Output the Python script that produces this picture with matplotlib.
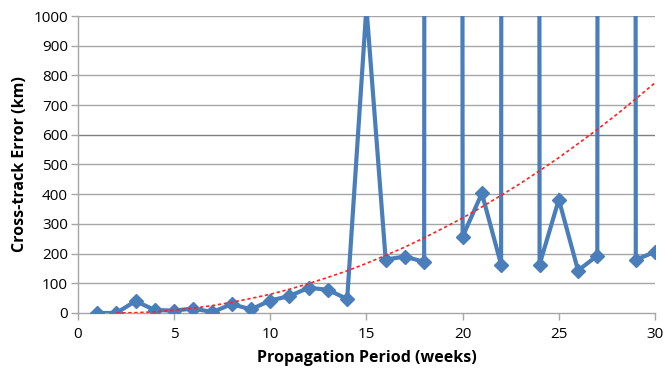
#%%--------------------Libraries------------------------------------
import matplotlib.pyplot as plt
import numpy as np

#%%--------------------Data-----------------------------------------
weeks = list(range(1, 31))
# weeks 19, 23 and 28 are far off scale (lines shoot straight up)
error_km = [0, 0, 40, 10, 8, 15, 3, 30, 12, 42,
            57, 85, 78, 47, 1030, 180, 190, 172, 1e5, 257,
            403, 163, 1e5, 163, 382, 143, 193, 1e5, 179, 206]

trend_weeks = list(range(2, 31))
trend_km = [0, 1, 4, 9, 16, 25, 36, 49, 63, 80,
            99, 120, 142, 167, 194, 222, 253, 286, 320, 357,
            396, 436, 479, 523, 570, 618, 668, 721, 775]

#%%--------------------Figure---------------------------------------
plt.rcParams['font.family'] = ['Open Sans', 'DejaVu Sans']
fig = plt.figure(figsize=(6.65, 3.68), dpi=100)
ax = fig.add_axes([0.117, 0.1495, 0.868, 0.807])

blue = '#4a7ebb'
ax.plot(weeks, error_km, color=blue, lw=3, marker='D', ms=7.5,
        mfc=blue, mec=blue, zorder=3, solid_joinstyle='miter')
ax.plot(trend_weeks, trend_km, color='#ff2020', lw=1.2,
        linestyle=(0, (2, 1.6)), zorder=4)

ax.set_xlim(0, 30)
ax.set_ylim(0, 1000)
ax.set_xticks(range(0, 31, 5))
ax.set_yticks(range(0, 1001, 100))

# horizontal grid only
for y in range(100, 1001, 100):
    c = '#7f7f7f' if y == 600 else '#a6a6a6'
    ax.axhline(y, color=c, lw=1.0, zorder=1)

for s in ['top', 'right']:
    ax.spines[s].set_visible(False)
for s in ['left', 'bottom']:
    ax.spines[s].set_color('#a6a6a6')
    ax.spines[s].set_linewidth(1.0)

ax.tick_params(axis='both', colors='#a6a6a6', length=5, width=1.0,
               labelcolor='black', labelsize=11, direction='out')
ax.tick_params(axis='x', pad=5)
ax.tick_params(axis='y', pad=2)

ax.set_xlabel("Propagation Period (weeks)", fontsize=11.5,
              fontweight='bold', labelpad=6)
ax.set_ylabel("Cross-track Error (km)", fontsize=11.5,
              fontweight='bold', labelpad=4)

fig.savefig("out.png", dpi=100)
